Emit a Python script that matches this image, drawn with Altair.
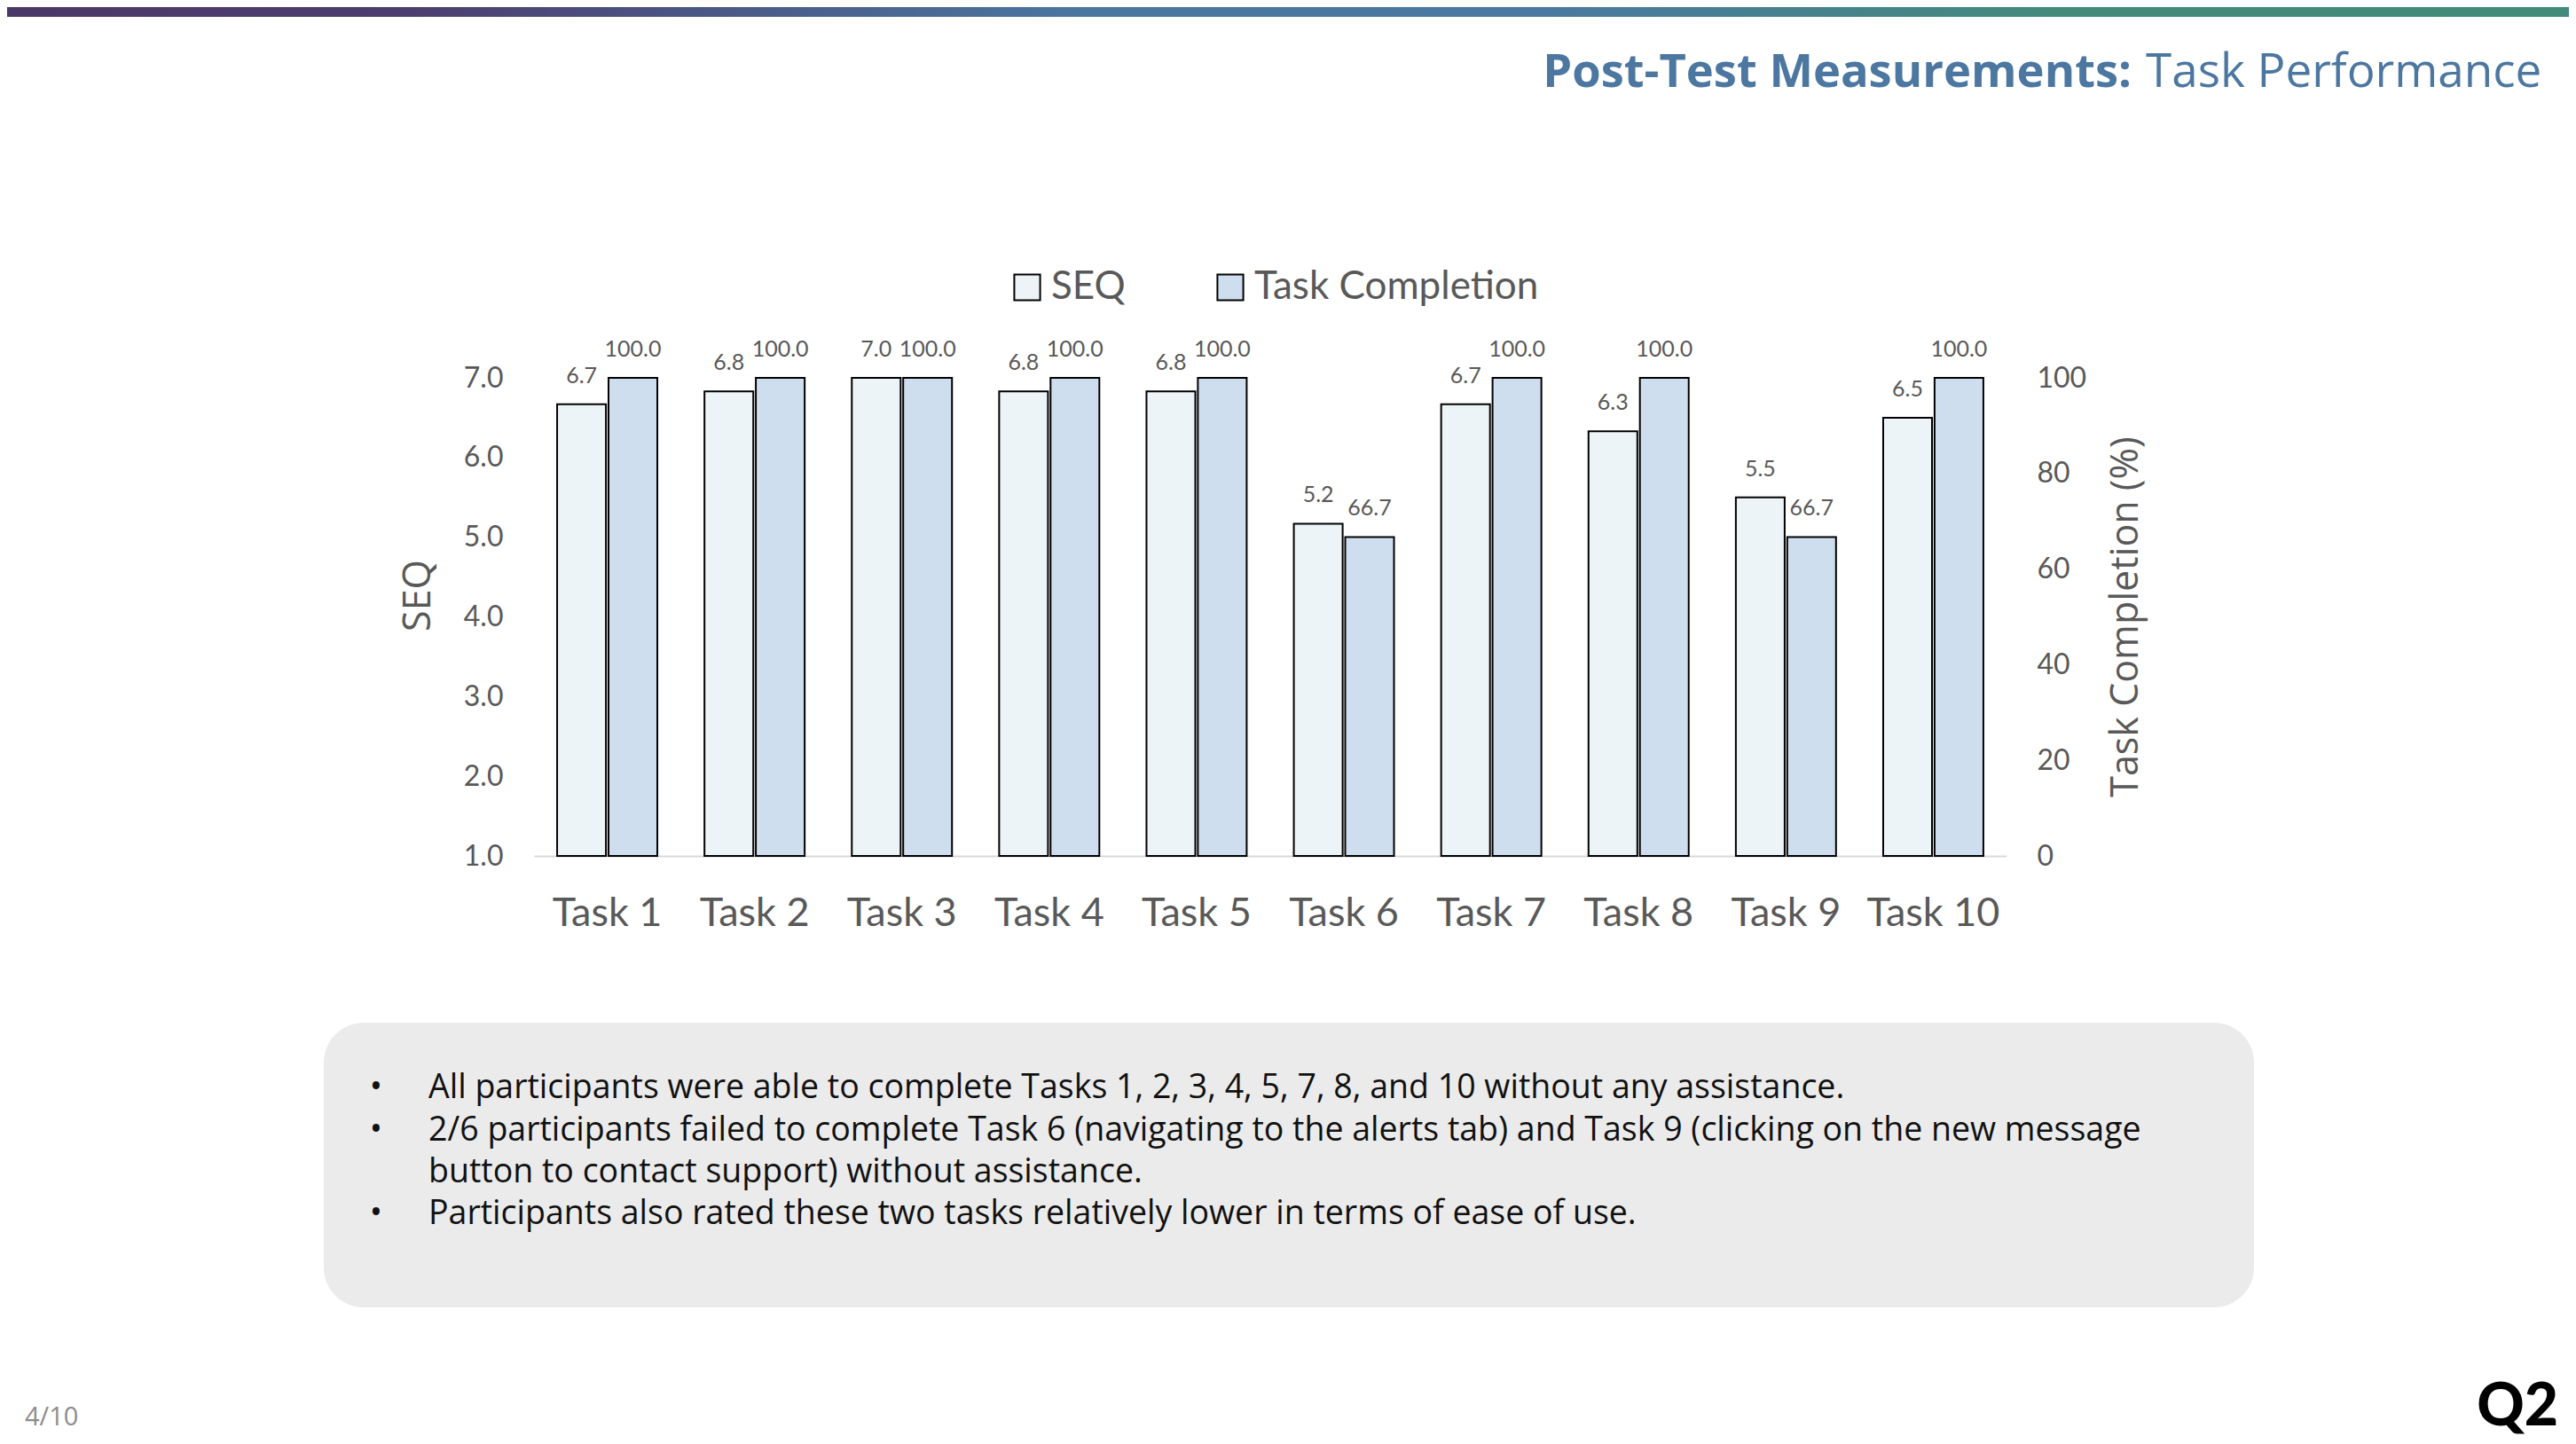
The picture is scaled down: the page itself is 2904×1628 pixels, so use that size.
import altair as alt
import pandas as pd

# ---------------- data ----------------
tasks = ["Task 1", "Task 2", "Task 3", "Task 4", "Task 5",
         "Task 6", "Task 7", "Task 8", "Task 9", "Task 10"]
series = ["SEQ", "Task Completion"]
seq_values = [6.67, 6.83, 7.0, 6.83, 6.83, 5.17, 6.67, 6.33, 5.5, 6.5]
completion_values = [100.0, 100.0, 100.0, 100.0, 100.0, 66.7, 100.0, 100.0, 66.7, 100.0]
seq_ticks = [1, 2, 3, 4, 5, 6, 7]
completion_ticks = [0, 20, 40, 60, 80, 100]
series_colors = ["#edf4f8", "#cfdeee"]

title_bold = "Post-Test Measurements:"
title_light = "Task Performance"
note_lines = [
    "All participants were able to complete Tasks 1, 2, 3, 4, 5, 7, 8, and 10 without any assistance.",
    "2/6 participants failed to complete Task 6 (navigating to the alerts tab) and Task 9 (clicking on the new message",
    "button to contact support) without assistance.",
    "Participants also rated these two tasks relatively lower in terms of ease of use.",
]
bullet_line_index = [0, 1, 3]
page_label = "4/10"
logo_text = "Q2"

seq_df = pd.DataFrame({"task": tasks, "series": "SEQ", "value": seq_values})
tc_df = pd.DataFrame({"task": tasks, "series": "Task Completion", "value": completion_values})

# ---------------- layout (page px -> plot px) ----------------
PLOT_X0, PLOT_Y0 = 602, 426
W, H = 1660, 539


def rx(px):
    return px - PLOT_X0


def ry(py):
    return py - PLOT_Y0


GRAY = "#595959"
CHART_FONT = "Lato"
PAGE_FONT = "Open Sans"

x_enc = alt.X(
    "task:N", sort=tasks,
    scale=alt.Scale(domain=tasks, paddingInner=0.32, paddingOuter=0.157),
    axis=alt.Axis(title=None, labelAngle=0, ticks=False, domain=True,
                  domainColor="#d9d9d9", domainWidth=2,
                  labelFont=CHART_FONT, labelFontSize=45, labelColor=GRAY,
                  labelBaseline="alphabetic", labelPadding=78, grid=False),
)
xoff_enc = alt.XOffset("series:N", sort=series,
                       scale=alt.Scale(domain=series, paddingInner=0.05, paddingOuter=0))
fill_enc = alt.Fill(
    "series:N",
    scale=alt.Scale(domain=series, range=series_colors),
    legend=alt.Legend(orient="none", legendX=534, legendY=-124, direction="horizontal",
                      title=None, symbolType="square", symbolSize=850,
                      symbolStrokeColor="black", symbolStrokeWidth=2,
                      labelFont=CHART_FONT, labelFontSize=44, labelColor=GRAY,
                      labelLimit=1000, labelOffset=5, columnPadding=96, padding=0),
)

seq_y = alt.Y(
    "value:Q",
    scale=alt.Scale(domain=[1, 7], zero=False, nice=False),
    axis=alt.Axis(orient="left", values=seq_ticks, format=".1f", domain=False, ticks=False,
                  grid=False, labelFont=CHART_FONT, labelFontSize=32, labelColor=GRAY,
                  labelPadding=35, title="SEQ", titleFont="Open Sans", titleFontSize=43,
                  titleFontWeight="normal", titleColor=GRAY, titleAngle=270,
                  titleX=-131, titleY=245, titleAlign="center", titleBaseline="middle"),
)
tc_y = alt.Y(
    "value:Q",
    scale=alt.Scale(domain=[0, 100], nice=False),
    axis=alt.Axis(orient="right", values=completion_ticks, format="d", domain=False, ticks=False,
                  grid=False, labelFont=CHART_FONT, labelFontSize=32, labelColor=GRAY,
                  labelPadding=34, title="Task Completion (%)", titleFont="Open Sans",
                  titleFontSize=43, titleFontWeight="normal", titleColor=GRAY, titleAngle=270,
                  titleX=134, titleY=269, titleAlign="center", titleBaseline="middle"),
)

seq_bars = alt.Chart(seq_df).mark_bar(stroke="black", strokeWidth=2).encode(
    x=x_enc, xOffset=xoff_enc, y=seq_y, y2=alt.datum(1), fill=fill_enc)
seq_text = alt.Chart(seq_df).mark_text(
    font=CHART_FONT, fontSize=25, color=GRAY, baseline="alphabetic", dy=-24
).encode(x=x_enc, xOffset=xoff_enc, y=seq_y, text=alt.Text("value:Q", format=".1f"))

tc_bars = alt.Chart(tc_df).mark_bar(stroke="black", strokeWidth=2).encode(
    x=x_enc, xOffset=xoff_enc, y=tc_y, fill=fill_enc)
tc_text = alt.Chart(tc_df).mark_text(
    font=CHART_FONT, fontSize=25, color=GRAY, baseline="alphabetic", dy=-24
).encode(x=x_enc, xOffset=xoff_enc, y=tc_y, text=alt.Text("value:Q", format=".1f"))

seq_layer = alt.layer(seq_bars, seq_text)
tc_layer = alt.layer(tc_bars, tc_text)

# ---------------- page decorations ----------------
deco = alt.Chart(pd.DataFrame({"k": [0]}))

gradient = alt.Gradient(
    gradient="linear", x1=0, x2=1, y1=0, y2=0,
    stops=[alt.GradientStop(color="#4b3868", offset=0),
           alt.GradientStop(color="#4c3d6e", offset=0.15),
           alt.GradientStop(color="#4a76a0", offset=0.42),
           alt.GradientStop(color="#4a78a0", offset=0.6),
           alt.GradientStop(color="#438a7b", offset=0.8),
           alt.GradientStop(color="#428a7a", offset=1)],
)
top_bar = deco.mark_rect(fill=gradient).encode(
    x=alt.value(rx(8)), x2=alt.value(rx(2896)), y=alt.value(ry(8)), y2=alt.value(ry(19)))

title_a = deco.mark_text(text=title_bold, font=PAGE_FONT, fontSize=52.5, fontWeight="bold",
                         color="#4c77a1", align="right", baseline="alphabetic").encode(
    x=alt.value(rx(2403)), y=alt.value(ry(98)))
title_b = deco.mark_text(text=title_light, font=PAGE_FONT, fontSize=53, fontWeight="normal",
                         color="#4c77a1", align="left", baseline="alphabetic").encode(
    x=alt.value(rx(2419)), y=alt.value(ry(98)))

box = deco.mark_rect(fill="#ebebeb", cornerRadius=45).encode(
    x=alt.value(rx(365)), x2=alt.value(rx(2541)), y=alt.value(ry(1153)), y2=alt.value(ry(1474)))

line_baselines = [1238, 1286, 1333, 1380]
note_layers = []
for i, line in enumerate(note_lines):
    note_layers.append(deco.mark_text(text=line, font=PAGE_FONT, fontSize=37.5, color="#111111",
                                      align="left", baseline="alphabetic").encode(
        x=alt.value(rx(483)), y=alt.value(ry(line_baselines[i]))))
    if i in bullet_line_index:
        note_layers.append(deco.mark_text(text="•", font=PAGE_FONT, fontSize=38, color="#111111",
                                          align="center", baseline="alphabetic").encode(
            x=alt.value(rx(424)), y=alt.value(ry(line_baselines[i]))))

page_num = deco.mark_text(text=page_label, font="Open Sans", fontSize=29, color="#8c8c8c",
                          align="left", baseline="alphabetic").encode(
    x=alt.value(rx(28)), y=alt.value(ry(1607)))
logo = deco.mark_text(text=logo_text, font="Lato", fontSize=66, fontWeight=900, color="black",
                      align="right", baseline="alphabetic").encode(
    x=alt.value(rx(2884)), y=alt.value(ry(1607)))

chart = alt.layer(
    top_bar, title_a, title_b, box, *note_layers, page_num, logo,
    seq_layer, tc_layer,
).resolve_scale(y="independent").properties(
    width=W, height=H,
    autosize=alt.AutoSizeParams(type="none"),
    padding={"left": PLOT_X0 - 8, "top": PLOT_Y0 - 8,
             "right": 2888 - (PLOT_X0 - 8) - W, "bottom": 1612 - (PLOT_Y0 - 8) - H},
    background="white",
).configure_view(stroke=None)

chart.save("out.html", embed_options={"renderer": "svg", "actions": False})
